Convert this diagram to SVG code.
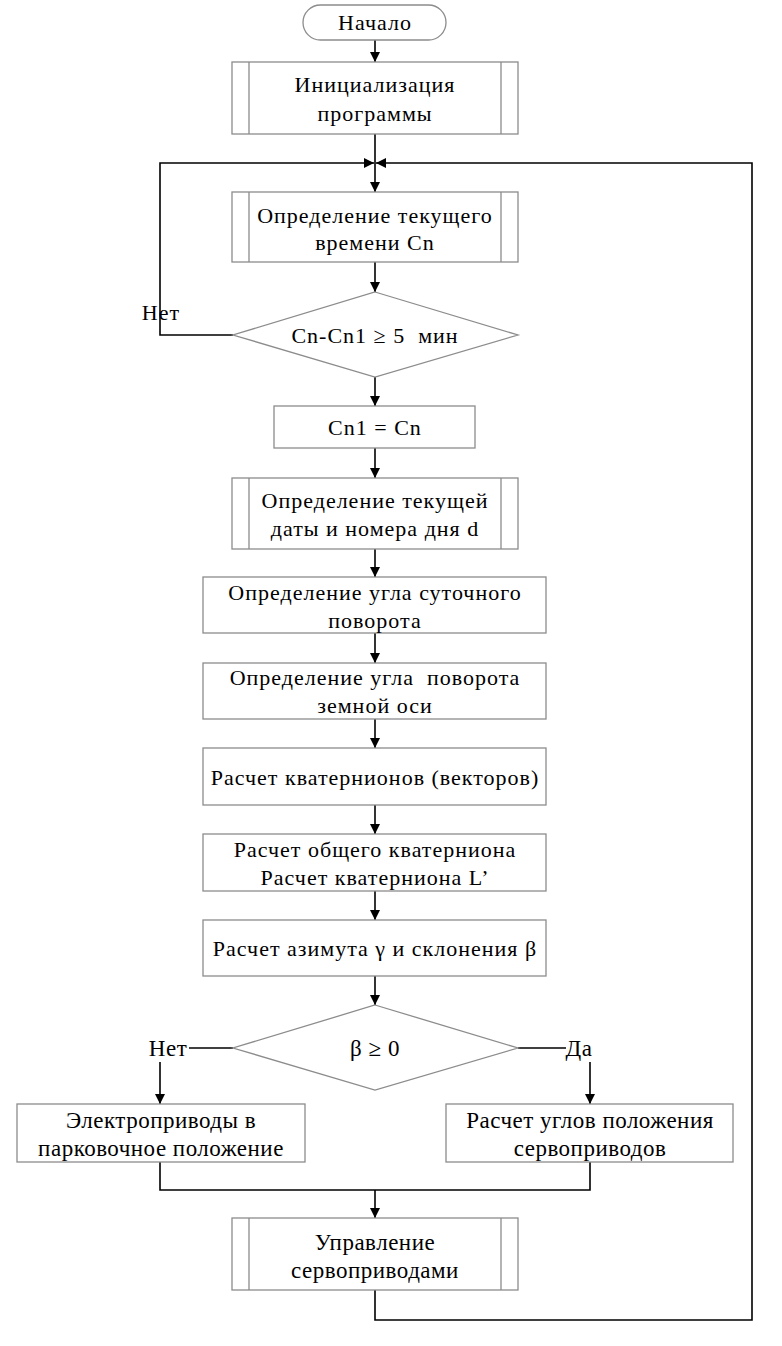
<svg xmlns="http://www.w3.org/2000/svg" width="782" height="1346" viewBox="0 0 782 1346">
<defs>
<marker id="ah" viewBox="0 0 10 10" refX="10" refY="5" markerWidth="10" markerHeight="10" markerUnits="userSpaceOnUse" orient="auto">
<path d="M0,0 L10,5 L0,10 z" fill="#000"/>
</marker>
<style>
.box{fill:#fff;stroke:#8c8c8c;stroke-width:1.3}
.sub{fill:none;stroke:#8c8c8c;stroke-width:1.3}
.ln{fill:none;stroke:#000;stroke-width:1.6}
.t{font-family:"Liberation Serif","Times New Roman",serif;font-size:22px;letter-spacing:1px;fill:#000;text-anchor:middle;dominant-baseline:central;white-space:pre}
.b{font-family:"Liberation Serif","Times New Roman",serif;font-size:23px;letter-spacing:0.5px;fill:#000;text-anchor:middle;dominant-baseline:central}
</style>
</defs>
<rect width="782" height="1346" fill="#fff"/>
<g id="connectors">
<line class="ln" x1="375" y1="40" x2="375" y2="62" marker-end="url(#ah)"/>
<line class="ln" x1="375" y1="134" x2="375" y2="192" marker-end="url(#ah)"/>
<polyline class="ln" points="233,335 160,335 160,163 374,163" marker-end="url(#ah)"/>
<polyline class="ln" points="375,1290 375,1320 752,1320 752,163 376,163" marker-end="url(#ah)"/>
<line class="ln" x1="375" y1="262" x2="375" y2="292" marker-end="url(#ah)"/>
<line class="ln" x1="375" y1="377" x2="375" y2="406" marker-end="url(#ah)"/>
<line class="ln" x1="375" y1="448" x2="375" y2="478" marker-end="url(#ah)"/>
<line class="ln" x1="375" y1="549" x2="375" y2="577" marker-end="url(#ah)"/>
<line class="ln" x1="375" y1="633" x2="375" y2="663" marker-end="url(#ah)"/>
<line class="ln" x1="375" y1="719" x2="375" y2="748" marker-end="url(#ah)"/>
<line class="ln" x1="375" y1="805" x2="375" y2="834" marker-end="url(#ah)"/>
<line class="ln" x1="375" y1="891" x2="375" y2="920" marker-end="url(#ah)"/>
<line class="ln" x1="375" y1="976" x2="375" y2="1005" marker-end="url(#ah)"/>
<line class="ln" x1="189" y1="1048" x2="233" y2="1048"/>
<line class="ln" x1="518" y1="1048" x2="566" y2="1048"/>
<line class="ln" x1="160" y1="1062" x2="160" y2="1104" marker-end="url(#ah)"/>
<line class="ln" x1="590" y1="1062" x2="590" y2="1104" marker-end="url(#ah)"/>
<polyline class="ln" points="160,1162 160,1190 590,1190 590,1162"/>
<line class="ln" x1="375" y1="1190" x2="375" y2="1218" marker-end="url(#ah)"/>
<text class="t" x="161" y="312">Нет</text>
<text class="b" x="168" y="1048">Нет</text>
<text class="b" x="579" y="1048">Да</text>
</g>
<g id="start">
<rect class="box" x="303" y="5" width="143" height="35" rx="17.5"/>
<text class="t" x="375" y="22">Начало</text>
</g>
<g id="init">
<rect class="box" x="232" y="62" width="286" height="72"/>
<path class="sub" d="M249,62V134M501,62V134"/>
<text class="t" x="375" y="84">Инициализация</text>
<text class="t" x="375" y="113">программы</text>
</g>
<g id="time">
<rect class="box" x="232" y="192" width="286" height="70"/>
<path class="sub" d="M249,192V262M501,192V262"/>
<text class="t" x="375" y="215">Определение текущего</text>
<text class="t" x="375" y="242">времени Cn</text>
</g>
<g id="check">
<polygon class="box" points="375,292 518,335 375,377 233,335"/>
<text class="t" x="375" y="335" xml:space="preserve">Cn-Cn1 ≥ 5  мин</text>
</g>
<g id="assign">
<rect class="box" x="274" y="406" width="201" height="42"/>
<text class="t" x="375" y="427">Cn1 = Cn</text>
</g>
<g id="date">
<rect class="box" x="232" y="478" width="286" height="71"/>
<path class="sub" d="M249,478V549M501,478V549"/>
<text class="t" x="375" y="500">Определение текущей</text>
<text class="t" x="375" y="528">даты и номера дня d</text>
</g>
<g id="daily">
<rect class="box" x="203" y="577" width="343" height="56"/>
<text class="t" x="375" y="592">Определение угла суточного</text>
<text class="t" x="375" y="620">поворота</text>
</g>
<g id="axis">
<rect class="box" x="203" y="663" width="343" height="56"/>
<text class="t" x="375" y="677" xml:space="preserve">Определение угла  поворота</text>
<text class="t" x="375" y="705">земной оси</text>
</g>
<g id="quat">
<rect class="box" x="203" y="748" width="343" height="57"/>
<text class="t" x="375" y="777">Расчет кватернионов (векторов)</text>
</g>
<g id="common">
<rect class="box" x="203" y="834" width="343" height="57"/>
<text class="t" x="375" y="849">Расчет общего кватерниона</text>
<text class="t" x="375" y="877">Расчет кватерниона L’</text>
</g>
<g id="azimuth">
<rect class="box" x="203" y="920" width="343" height="56"/>
<text class="t" x="375" y="948">Расчет азимута γ и склонения β</text>
</g>
<g id="decision">
<polygon class="box" points="375,1005 518,1048 375,1090 233,1048"/>
<text class="b" x="375" y="1048">β ≥ 0</text>
</g>
<g id="park">
<rect class="box" x="17" y="1104" width="288" height="58"/>
<text class="b" x="161" y="1120">Электроприводы в</text>
<text class="b" x="161" y="1148">парковочное положение</text>
</g>
<g id="angles">
<rect class="box" x="446" y="1104" width="287" height="58"/>
<text class="b" x="590" y="1120">Расчет углов положения</text>
<text class="b" x="590" y="1148">сервоприводов</text>
</g>
<g id="control">
<rect class="box" x="232" y="1218" width="286" height="72"/>
<path class="sub" d="M249,1218V1290M501,1218V1290"/>
<text class="b" x="375" y="1242">Управление</text>
<text class="b" x="375" y="1270">сервоприводами</text>
</g>
</svg>
